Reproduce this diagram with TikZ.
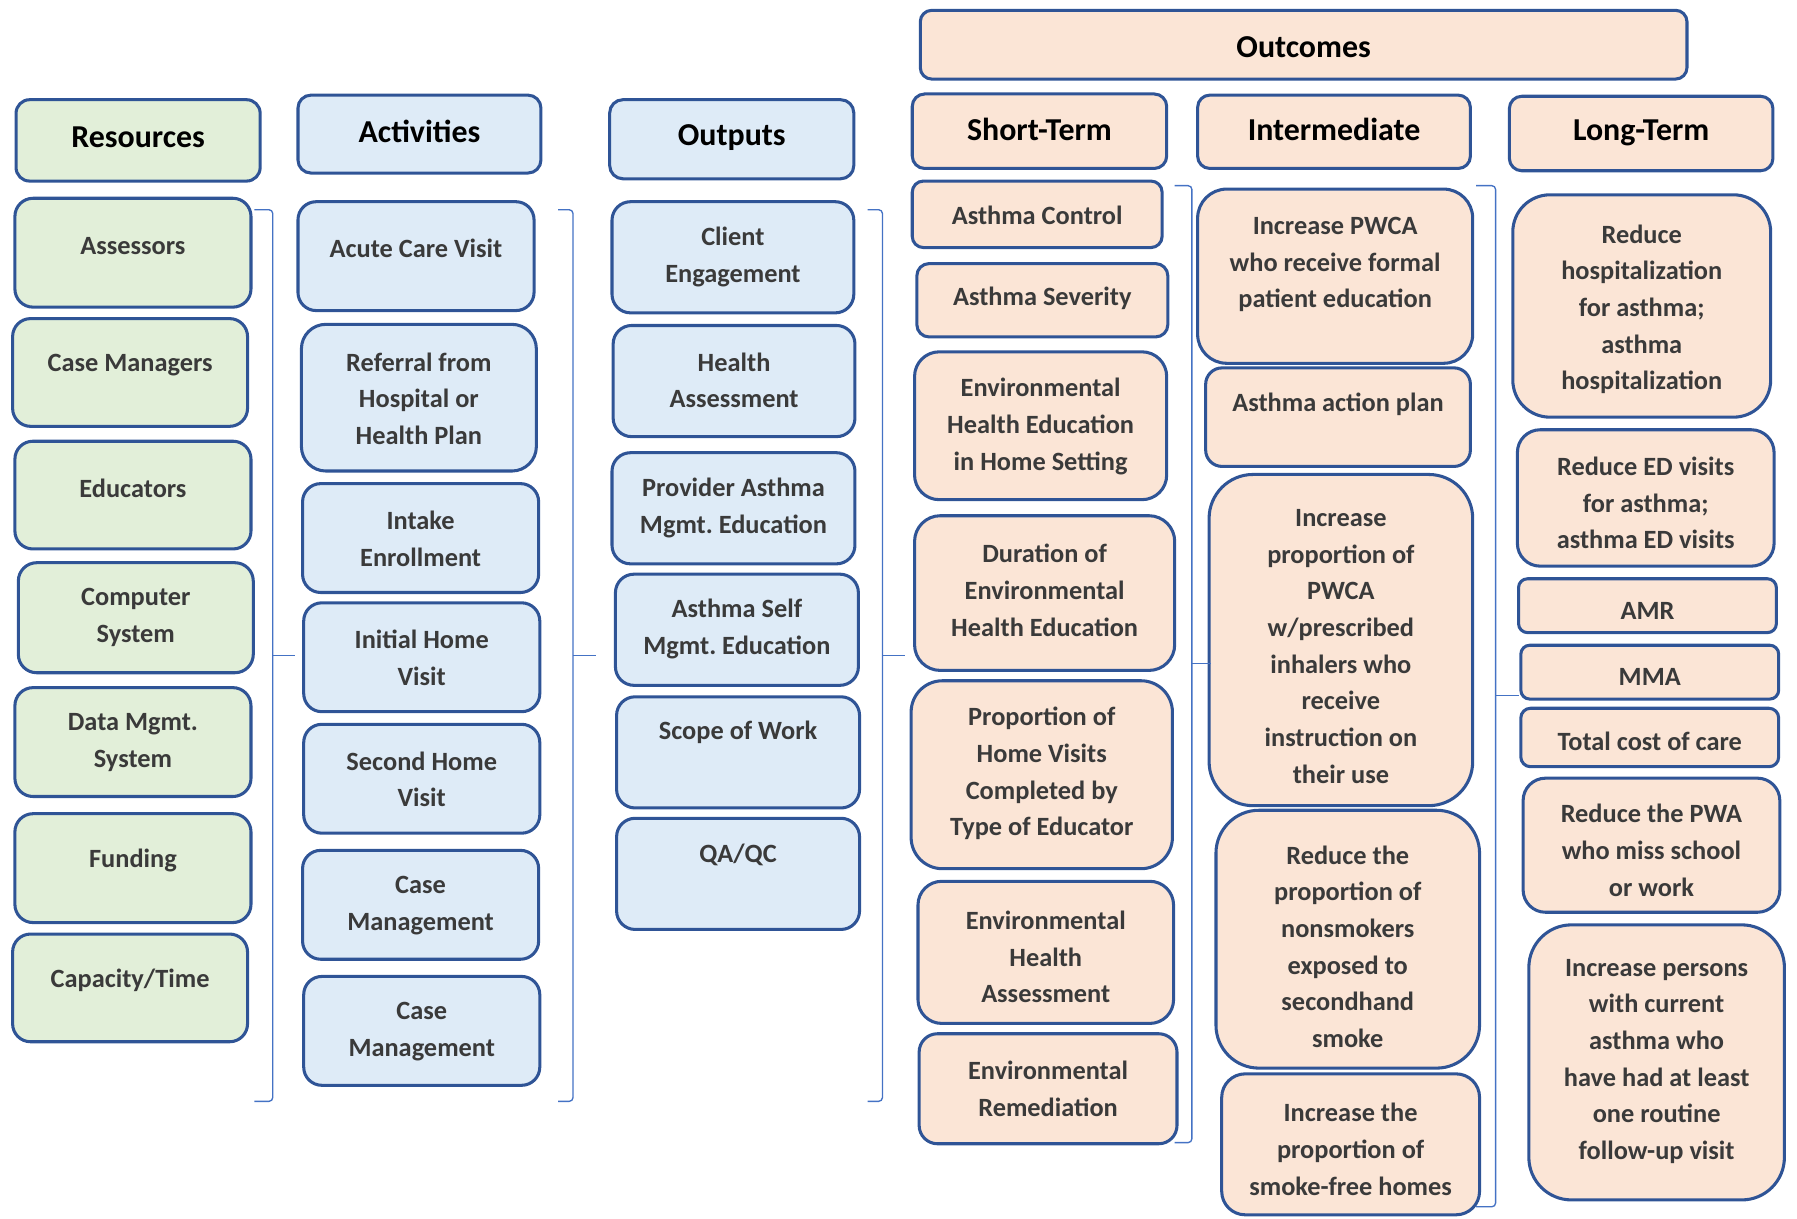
\documentclass[tikz,border=0pt]{standalone}
\usepackage{fontspec}
\setmainfont{Carlito}
\frenchspacing
\definecolor{edge}{HTML}{2F5496}
\definecolor{brk}{HTML}{4472C4}
\definecolor{green}{HTML}{E2EFD9}
\definecolor{blue}{HTML}{DEEBF7}
\definecolor{peach}{HTML}{FBE5D6}
\definecolor{ink}{HTML}{3A3A3A}
\tikzset{
  boxbase/.style={draw=edge, line width=1.6pt, inner sep=0pt},
  head/.style={inner sep=0pt, align=center, text=black,
    font=\fontsize{16.7}{20}\selectfont\bfseries},
  body/.style={inner sep=0pt, align=center, text=ink, yshift=-1.2pt,
    font=\fontsize{13.8}{19.2}\selectfont\bfseries},
  bracket/.style={draw=brk, line width=0.7pt, rounded corners=2pt},
}
% box: name, x1, y1, x2, y2, fill, text style, text centre y, text
\newcommand\bx[9]{%
  \pgfmathsetmacro\bw{(#4-#2)*0.6}%
  \pgfmathsetmacro\bh{(#5-#3)*0.6}%
  \pgfmathsetmacro\br{0.1667*min(\bw,\bh)}%
  \node[boxbase, fill=#6, minimum width=\bw pt, minimum height=\bh pt,
        rounded corners=\br pt] (#1) at ({(#2+#4)/2},{(#3+#5)/2}) {};
  \node[#7] (#1-t) at ({(#2+#4)/2},#8) {#9};
}
% right bracket: x1 (hook end), x2 (spine), x3 (tip), top, bottom, tip y
\newcommand\groupbrace[6]{%
  \draw[bracket] (#1,#4) -- (#2,#4) -- (#2,#5) -- (#1,#5);
  \draw[bracket] (#2,#6) -- (#3,#6);
}
\begin{document}
\begin{tikzpicture}[x=0.6pt,y=-0.6pt]
\useasboundingbox (0,0) rectangle (1568,1063);

% Resources
\bx{res}{14}{87}{227}{158}{green}{head}{120}{Resources}
\bx{r1}{13}{173}{219}{268}{green}{body}{213}{Assessors}
\bx{r2}{11}{278}{216}{372}{green}{body}{317}{Case Managers}
\bx{r3}{13}{385}{219}{479}{green}{body}{424}{Educators}
\bx{r4}{16}{491}{221}{587}{green}{body}{537}{Computer\\System}
\bx{r5}{13}{600}{219}{695}{green}{body}{646}{Data Mgmt.\\System}
\bx{r6}{13}{710}{219}{805}{green}{body}{749}{Funding}
\bx{r7}{11}{815}{216}{909}{green}{body}{853}{Capacity/Time}

% Activities
\bx{act}{260}{83}{472}{151}{blue}{head}{115}{Activities}
\bx{a1}{260}{176}{466}{271}{blue}{body}{215}{Acute Care Visit}
\bx{a2}{263}{283}{468}{411}{blue}{body}{346}{Referral from\\Hospital or\\Health Plan}
\bx{a3}{264}{422}{470}{517}{blue}{body}{468}{Intake\\Enrollment}
\bx{a4}{265}{526}{471}{621}{blue}{body}{572}{Initial Home\\Visit}
\bx{a5}{265}{632}{471}{727}{blue}{body}{678}{Second Home\\Visit}
\bx{a6}{264}{742}{470}{837}{blue}{body}{788}{Case\\Management}
\bx{a7}{265}{852}{471}{947}{blue}{body}{898}{Case\\Management}

% Outputs
\bx{out}{532}{87}{745}{156}{blue}{head}{120}{Outputs}
\bx{o1}{534}{176}{745}{273}{blue}{body}{222}{Client\\Engagement}
\bx{o2}{535}{284}{746}{381}{blue}{body}{330}{Health\\Assessment}
\bx{o3}{534}{395}{746}{492}{blue}{body}{441}{Provider Asthma\\Mgmt. Education}
\bx{o4}{537}{501}{749}{598}{blue}{body}{547}{Asthma Self\\Mgmt. Education}
\bx{o5}{538}{608}{750}{705}{blue}{body}{637}{Scope of Work}
\bx{o6}{538}{714}{750}{811}{blue}{body}{744}{QA/QC}

% Outcomes
\bx{outc}{803}{9}{1472}{69}{peach}{head}{41}{Outcomes}

% Short-term
\bx{st}{796}{82}{1018}{147}{peach}{head}{113}{Short-Term}
\bx{s1}{796}{158}{1014}{216}{peach}{body}{186}{Asthma Control}
\bx{s2}{800}{230}{1019}{294}{peach}{body}{258}{Asthma Severity}
\bx{s3}{798}{307}{1018}{436}{peach}{body}{370}{Environmental\\Health Education\\in Home Setting}
\bx{s4}{798}{450}{1025}{585}{peach}{body}{513}{Duration of\\Environmental\\Health Education}
\bx{s5}{795}{594}{1023}{758}{peach}{body}{673}{Proportion of\\Home Visits\\Completed by\\Type of Educator}
\bx{s6}{801}{769}{1024}{893}{peach}{body}{833}{Environmental\\Health\\Assessment}
\bx{s7}{802}{902}{1027}{998}{peach}{body}{948}{Environmental\\Remediation}

% Intermediate
\bx{im}{1045}{83}{1283}{147}{peach}{head}{113}{Intermediate}
\bx{i1}{1045}{165}{1285}{317}{peach}{body}{229}{Increase PWCA\\who receive formal\\patient education}
\bx{i2}{1052}{321}{1283}{407}{peach}{body}{351}{Asthma action plan}
\bx{i3}{1055}{414}{1285}{703}{peach}{body}{562}{Increase\\proportion of\\PWCA\\w/prescribed\\inhalers who\\receive\\instruction on\\their use}
\bx{i4}{1061}{707}{1291}{932}{peach}{body}{824}{Reduce the\\proportion of\\nonsmokers\\exposed to\\secondhand\\smoke}
\bx{i5}{1066}{937}{1291}{1060}{peach}{body}{1001}{Increase the\\proportion of\\smoke-free homes}

% Long-term
\bx{lt}{1317}{84}{1547}{149}{peach}{head}{116}{Long-Term}
\bx{l1}{1320}{170}{1545}{364}{peach}{body}{268}{Reduce\\hospitalization\\for asthma;\\asthma\\hospitalization}
\bx{l2}{1324}{375}{1548}{494}{peach}{body}{437}{Reduce ED visits\\for asthma;\\asthma ED visits}
\bx{l3}{1325}{505}{1550}{552}{peach}{body}{531}{AMR}
\bx{l4}{1327}{563}{1552}{610}{peach}{body}{589}{MMA}
\bx{l5}{1327}{618}{1552}{669}{peach}{body}{645}{Total cost of care}
\bx{l6}{1329}{679}{1553}{796}{peach}{body}{740}{Reduce the PWA\\who miss school\\or work}
\bx{l7}{1334}{807}{1557}{1047}{peach}{body}{924}{Increase persons\\with current\\asthma who\\have had at least\\one routine\\follow-up visit}

% Grouping brackets between the columns
\groupbrace{222}{238}{257}{183}{961}{572}
\groupbrace{487}{500}{520}{183}{961}{572}
\groupbrace{757}{770}{790}{183}{961}{572}
\groupbrace{1025}{1040}{1057}{162}{997}{579}
\groupbrace{1288}{1305}{1325}{162}{1053}{607}
\end{tikzpicture}
\end{document}
